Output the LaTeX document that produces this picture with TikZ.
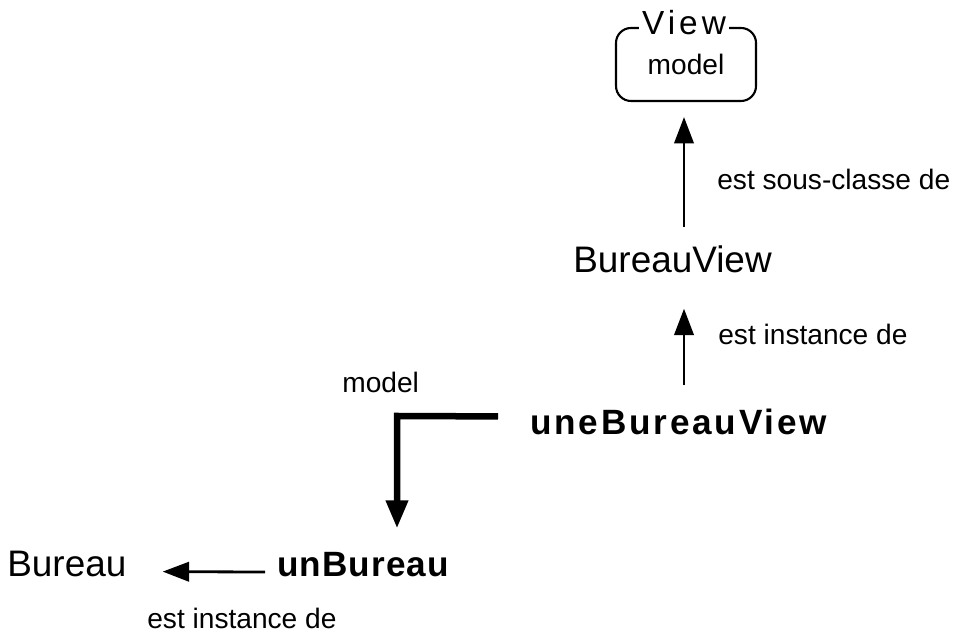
\documentclass[tikz,border=0pt]{standalone}
\usepackage{fontspec}
\setmainfont{Liberation Sans}
\usetikzlibrary{arrows.meta}

\begin{document}
\begin{tikzpicture}[
  petit/.style={inner sep=0pt, font=\fontsize{16}{19}\selectfont},
  classe/.style={inner sep=0pt, font=\fontsize{21}{25}\selectfont},
  objet/.style={inner sep=0pt, font=\fontsize{20}{24}\selectfont\bfseries\addfontfeature{LetterSpace=#1}},
  objet/.default=8,
  lien/.style={line width=1.6pt, -{Triangle[width=11pt,length=15pt]}},
  lienfort/.style={line width=3.7pt, -{Triangle[width=12pt,length=16pt]}},
]

% Cadre de la figure
\useasboundingbox (0,0) rectangle (19.18,12.74);

% Axe vertical des fleches
\coordinate (axe) at (13.68,0);

% Classe View
\node[petit, draw, line width=1.2pt, rounded corners=0.3cm,
      minimum width=2.8cm, minimum height=1.46cm] (view) at (13.72,11.45) {model};
\node[anchor=base, fill=white, inner xsep=1.5pt, inner ysep=0pt,
      font=\fontsize{19}{23}\selectfont\addfontfeature{LetterSpace=12}] (viewnom) at (13.68,12.05) {View};

% Classes et objets
\node[classe, anchor=base west] (bview) at (11.46,7.28) {BureauView};
\node[objet, anchor=base west] (une) at (10.6,4.04) {uneBureauView};
\node[objet=3, anchor=base west] (unb) at (5.54,1.2) {unBureau};
\node[classe, anchor=base west] (bur) at (0.14,1.2) {Bureau};

% Etiquettes des liens
\node[petit, anchor=base west] (souscl) at (14.34,8.94) {est sous-classe de};
\node[petit, anchor=base west] (inst) at (14.36,5.84) {est instance de};
\node[petit, anchor=base west] (instb) at (2.94,0.16) {est instance de};
\node[petit, anchor=base west] (mod) at (6.84,4.88) {model};

% Liens
\draw[lien, shorten <=0.38cm, shorten >=0.3cm] (bview.north -| axe) -- (view.south -| axe);
\draw[lien, shorten <=0.48cm, shorten >=0.7cm] (une.north -| axe) -- (bview.south -| axe);
\draw[lien, shorten <=0.24cm, shorten >=0.72cm] ([yshift=-0.14cm]unb.west) -- ([yshift=-0.14cm]bur.east);

% Variable model
\coordinate (coude) at (7.94,4.42);
\draw[lienfort, shorten >=0.48cm] ([xshift=-0.64cm,yshift=0.12cm]une.west) -- (coude) -- (coude |- unb.north);

\end{tikzpicture}
\end{document}
